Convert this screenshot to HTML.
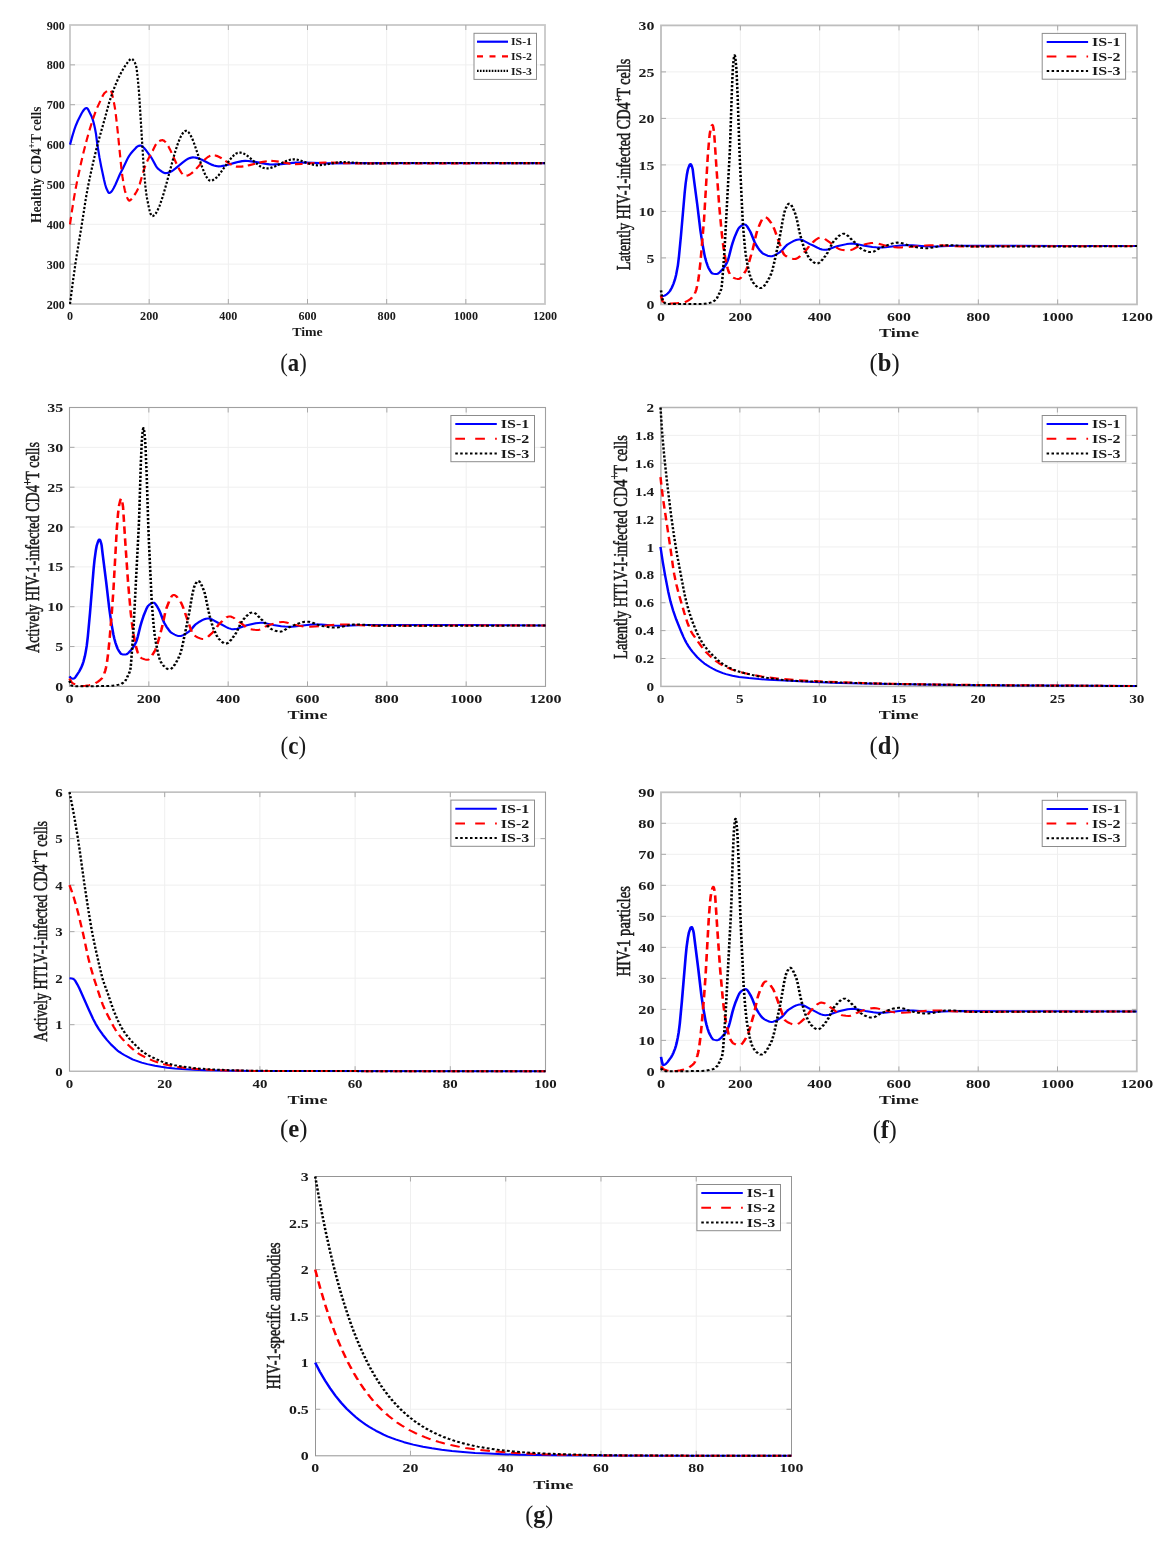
<!DOCTYPE html>
<html><head><meta charset="utf-8"><title>Figure</title>
<style>
html,body{margin:0;padding:0;background:#fff;}
svg{display:block;will-change:transform;}
text{font-family:"Liberation Serif", serif;fill:#1a1a1a;}
</style></head>
<body>
<svg width="1174" height="1541" viewBox="0 0 1174 1541">
<rect width="1174" height="1541" fill="#fff"/>
<path d="M149.17 25.00V304.00M228.33 25.00V304.00M307.50 25.00V304.00M386.67 25.00V304.00M465.83 25.00V304.00M70.00 264.14H545.00M70.00 224.29H545.00M70.00 184.43H545.00M70.00 144.57H545.00M70.00 104.71H545.00M70.00 64.86H545.00" stroke="#efefef" stroke-width="1" fill="none"/>
<rect x="70.00" y="25.00" width="475.00" height="279.00" stroke="#c8c8c8" stroke-width="1.80" fill="none"/>
<path d="M149.17 304.00v-5.00M149.17 25.00v5.00M228.33 304.00v-5.00M228.33 25.00v5.00M307.50 304.00v-5.00M307.50 25.00v5.00M386.67 304.00v-5.00M386.67 25.00v5.00M465.83 304.00v-5.00M465.83 25.00v5.00M70.00 264.14h5.00M545.00 264.14h-5.00M70.00 224.29h5.00M545.00 224.29h-5.00M70.00 184.43h5.00M545.00 184.43h-5.00M70.00 144.57h5.00M545.00 144.57h-5.00M70.00 104.71h5.00M545.00 104.71h-5.00M70.00 64.86h5.00M545.00 64.86h-5.00" stroke="#a8a8a8" stroke-width="1" fill="none"/>
<clipPath id="ca"><rect x="67.00" y="22.00" width="481.00" height="285.00"/></clipPath>
<g clip-path="url(#ca)"><g transform="translate(70.00 0) scale(1.0000 1)">
<path d="M0.00,144.6 2.26,136.4 4.16,130.2 5.94,125.2 7.72,121.0 11.52,113.5 12.71,111.5 13.78,110.0 14.85,108.8 15.92,108.2 16.39,108.0 16.87,108.1 17.58,108.6 18.65,110.4 21.38,115.9 22.69,119.4 23.87,123.5 24.94,128.2 26.01,134.0 27.32,144.4 29.46,157.4 31.24,166.7 33.97,179.5 35.16,184.5 36.23,188.0 38.01,191.8 38.60,192.7 38.96,192.9 39.20,193.0 40.15,192.7 41.22,191.9 42.40,190.3 43.59,188.3 45.37,184.7 50.13,173.8 52.74,168.7 57.13,159.6 58.44,157.1 59.51,155.3 60.58,153.8 62.95,151.0 65.80,147.9 66.87,146.9 67.94,146.2 68.89,145.8 69.84,145.6 70.44,145.6 71.15,145.8 72.46,146.5 73.88,147.8 75.54,149.7 81.13,157.3 82.43,159.5 85.76,165.6 86.71,167.1 87.66,168.3 90.27,170.5 92.29,171.9 94.07,172.8 95.62,173.1 97.04,173.0 98.47,172.6 100.01,172.1 101.56,171.3 103.34,170.1 105.24,168.7 112.84,162.4 116.17,159.9 118.07,158.8 119.73,158.1 121.39,157.6 122.94,157.4 124.24,157.5 125.55,157.6 128.52,158.4 131.96,159.8 139.21,163.5 142.30,164.9 143.96,165.5 145.62,165.9 147.17,166.2 148.59,166.3 151.33,166.2 154.41,165.7 157.98,164.8 165.46,162.6 168.67,161.8 172.11,161.1 175.20,160.9 178.05,161.0 181.26,161.3 184.94,161.9 195.99,163.9 199.55,164.3 202.76,164.5 205.61,164.4 208.70,164.3 222.83,162.8 226.16,162.6 229.24,162.5 235.42,162.6 250.27,163.2 256.92,163.3 284.60,163.1 475.00,163.1" stroke="#0000ff" stroke-width="2.20" fill="none" stroke-linejoin="round"/>
<path d="M0.00,224.3 1.90,211.2 3.80,199.2 5.58,189.0 7.36,180.0 10.57,165.1 13.30,153.3 16.51,140.7 19.24,130.9 22.69,119.8 25.54,111.7 27.44,107.1 32.78,95.7 33.97,93.7 34.45,93.1 35.16,92.5 36.47,91.5 37.65,90.7 38.72,90.2 39.67,90.0 40.27,90.0 40.74,90.4 41.22,91.3 41.81,93.0 43.24,99.1 44.42,105.1 45.02,108.6 45.97,115.9 47.51,129.6 51.43,168.8 52.38,176.2 53.81,185.5 54.88,190.6 56.66,196.3 57.37,198.1 57.96,199.4 58.56,200.2 59.15,200.6 59.63,200.6 60.22,200.3 60.82,199.7 61.53,198.9 65.45,193.5 66.64,191.5 67.82,189.2 68.77,186.9 69.72,184.1 73.76,170.2 75.43,165.3 76.85,162.0 78.39,158.8 82.79,150.6 85.52,145.1 86.83,143.0 87.90,141.8 90.04,140.7 90.99,140.4 91.82,140.2 92.41,140.2 93.00,140.3 93.60,140.5 94.31,141.0 95.62,142.2 97.04,144.1 98.59,146.7 100.25,149.9 106.90,164.7 108.45,167.8 109.75,170.2 111.30,172.6 112.72,174.3 113.43,174.9 114.15,175.4 114.86,175.7 115.45,175.8 116.88,175.6 118.30,175.2 119.85,174.4 121.39,173.4 123.06,172.0 124.96,170.2 132.68,161.7 134.46,159.9 136.00,158.5 137.90,157.0 139.57,156.1 141.11,155.5 142.65,155.2 143.96,155.3 145.27,155.5 146.69,155.9 148.24,156.5 151.56,158.3 158.69,163.1 161.78,164.9 163.44,165.7 164.98,166.2 166.53,166.6 167.95,166.7 171.40,166.6 175.32,166.1 179.71,165.1 188.98,162.8 193.02,161.9 197.29,161.2 201.09,160.9 203.71,161.0 206.56,161.3 209.76,161.8 219.50,163.6 222.59,164.0 225.33,164.1 231.98,163.9 247.77,162.8 254.90,162.5 261.20,162.6 275.93,163.2 282.58,163.3 393.52,163.3 475.00,163.1" stroke="#ff0000" stroke-width="2.20" fill="none" stroke-linejoin="round" stroke-dasharray="7.5 4.5"/>
<path d="M0.00,304.0 2.85,281.9 5.46,263.5 7.36,251.4 11.76,224.8 16.15,196.6 18.17,185.7 20.67,173.6 23.28,161.9 26.25,149.6 28.98,139.2 34.92,118.2 38.96,103.2 41.22,96.3 44.07,88.4 46.21,83.1 48.22,78.5 50.60,73.7 52.74,69.8 54.88,66.3 58.68,61.0 59.98,59.6 60.58,59.1 61.05,58.9 61.53,58.9 61.88,58.9 62.36,59.2 62.83,59.6 63.78,60.7 64.73,62.4 65.69,64.5 66.04,65.6 66.40,67.4 66.87,70.6 67.94,80.3 69.13,93.6 73.52,164.7 74.24,173.9 75.43,186.5 76.14,192.7 76.73,196.8 78.87,207.6 79.70,211.0 80.53,213.7 81.36,215.5 81.72,215.9 82.08,216.1 82.91,216.0 83.86,215.5 84.69,214.8 85.64,213.6 86.59,212.2 87.54,210.4 89.44,206.1 91.58,200.1 93.95,192.5 96.45,183.6 103.34,158.1 105.48,150.8 107.50,144.6 109.75,138.8 110.82,136.5 111.89,134.5 112.96,133.0 113.91,131.9 114.86,131.2 115.81,130.9 116.40,130.9 117.12,131.1 117.71,131.5 118.42,132.1 119.85,134.0 121.27,136.6 122.82,140.0 124.48,144.4 131.37,164.9 132.91,169.2 134.34,172.7 136.00,176.2 137.55,178.6 138.26,179.5 138.97,180.1 139.68,180.5 140.40,180.7 141.82,180.5 143.37,179.9 145.03,178.8 146.69,177.4 148.47,175.5 150.49,172.9 158.57,161.5 160.47,159.0 162.13,157.0 164.03,155.1 165.82,153.7 167.48,152.9 168.31,152.7 169.14,152.6 170.57,152.6 171.99,152.9 173.54,153.5 175.20,154.4 176.86,155.5 178.76,156.9 186.37,163.4 189.69,166.0 191.47,167.0 193.14,167.8 194.68,168.3 196.22,168.5 197.65,168.4 199.07,168.3 200.62,167.9 202.28,167.4 205.85,166.0 213.45,162.2 216.77,160.8 218.67,160.1 220.34,159.7 221.88,159.4 223.42,159.3 225.92,159.5 228.65,160.0 231.86,161.0 238.51,163.4 241.36,164.3 244.45,165.0 247.18,165.3 249.91,165.2 252.88,164.9 256.33,164.4 266.54,162.6 269.87,162.2 272.84,162.1 279.01,162.3 293.74,163.3 300.39,163.5 328.07,163.0 412.88,163.0 475.00,163.1" stroke="#000000" stroke-width="2.20" fill="none" stroke-linejoin="round" stroke-dasharray="2.2 1.8"/>
</g></g>
<text x="46.71" y="308.62" font-size="13.20" font-weight="bold" textLength="18.19" lengthAdjust="spacingAndGlyphs">200</text>
<text x="46.71" y="268.76" font-size="13.20" font-weight="bold" textLength="18.19" lengthAdjust="spacingAndGlyphs">300</text>
<text x="46.71" y="228.91" font-size="13.20" font-weight="bold" textLength="18.19" lengthAdjust="spacingAndGlyphs">400</text>
<text x="46.71" y="189.05" font-size="13.20" font-weight="bold" textLength="18.19" lengthAdjust="spacingAndGlyphs">500</text>
<text x="46.71" y="149.19" font-size="13.20" font-weight="bold" textLength="18.19" lengthAdjust="spacingAndGlyphs">600</text>
<text x="46.71" y="109.33" font-size="13.20" font-weight="bold" textLength="18.19" lengthAdjust="spacingAndGlyphs">700</text>
<text x="46.71" y="69.48" font-size="13.20" font-weight="bold" textLength="18.19" lengthAdjust="spacingAndGlyphs">800</text>
<text x="46.71" y="29.62" font-size="13.20" font-weight="bold" textLength="18.19" lengthAdjust="spacingAndGlyphs">900</text>
<text x="66.97" y="319.90" font-size="13.20" font-weight="bold" textLength="6.06" lengthAdjust="spacingAndGlyphs">0</text>
<text x="140.07" y="319.90" font-size="13.20" font-weight="bold" textLength="18.19" lengthAdjust="spacingAndGlyphs">200</text>
<text x="219.24" y="319.90" font-size="13.20" font-weight="bold" textLength="18.19" lengthAdjust="spacingAndGlyphs">400</text>
<text x="298.41" y="319.90" font-size="13.20" font-weight="bold" textLength="18.19" lengthAdjust="spacingAndGlyphs">600</text>
<text x="377.57" y="319.90" font-size="13.20" font-weight="bold" textLength="18.19" lengthAdjust="spacingAndGlyphs">800</text>
<text x="453.71" y="319.90" font-size="13.20" font-weight="bold" textLength="24.25" lengthAdjust="spacingAndGlyphs">1000</text>
<text x="532.88" y="319.90" font-size="13.20" font-weight="bold" textLength="24.25" lengthAdjust="spacingAndGlyphs">1200</text>
<text x="292.25" y="336.20" font-size="12.80" font-weight="bold" textLength="30.50" lengthAdjust="spacingAndGlyphs">Time</text>
<text transform="translate(40.60 164.75) rotate(-90) scale(0.9550 1)" x="0" y="0" font-size="14.00" font-weight="bold" text-anchor="middle">Healthy CD4<tspan dy="-5.32" font-size="9.80">+</tspan><tspan dy="5.32">T cells</tspan></text>
<rect x="474.00" y="33.30" width="62.50" height="46.10" stroke="#8c8c8c" stroke-width="1" fill="#fff"/>
<path d="M477.00 41.70H508.00" stroke="#0000ff" stroke-width="2.20"/>
<text x="511.00" y="45.39" font-size="11.00" font-weight="bold" textLength="21.00" lengthAdjust="spacingAndGlyphs">IS-1</text>
<path d="M477.00 56.30H508.00" stroke="#ff0000" stroke-width="2.20" stroke-dasharray="6 6.5"/>
<text x="511.00" y="59.98" font-size="11.00" font-weight="bold" textLength="21.00" lengthAdjust="spacingAndGlyphs">IS-2</text>
<path d="M477.00 70.90H508.00" stroke="#000000" stroke-width="2.20" stroke-dasharray="1.6 1.35"/>
<text x="511.00" y="74.59" font-size="11.00" font-weight="bold" textLength="21.00" lengthAdjust="spacingAndGlyphs">IS-3</text>
<text x="280.30" y="371.20" font-size="24.50" textLength="26.50" lengthAdjust="spacingAndGlyphs">(<tspan font-weight="bold">a</tspan>)</text>
<path d="M740.33 25.40V304.40M819.67 25.40V304.40M899.00 25.40V304.40M978.33 25.40V304.40M1057.67 25.40V304.40M661.00 257.90H1137.00M661.00 211.40H1137.00M661.00 164.90H1137.00M661.00 118.40H1137.00M661.00 71.90H1137.00" stroke="#efefef" stroke-width="1" fill="none"/>
<rect x="661.00" y="25.40" width="476.00" height="279.00" stroke="#bebebe" stroke-width="1.80" fill="none"/>
<path d="M740.33 304.40v-5.00M740.33 25.40v5.00M819.67 304.40v-5.00M819.67 25.40v5.00M899.00 304.40v-5.00M899.00 25.40v5.00M978.33 304.40v-5.00M978.33 25.40v5.00M1057.67 304.40v-5.00M1057.67 25.40v5.00M661.00 257.90h5.00M1137.00 257.90h-5.00M661.00 211.40h5.00M1137.00 211.40h-5.00M661.00 164.90h5.00M1137.00 164.90h-5.00M661.00 118.40h5.00M1137.00 118.40h-5.00M661.00 71.90h5.00M1137.00 71.90h-5.00" stroke="#a8a8a8" stroke-width="1" fill="none"/>
<clipPath id="cb"><rect x="658.00" y="22.40" width="482.00" height="285.00"/></clipPath>
<g clip-path="url(#cb)"><g transform="translate(661.00 0) scale(1.2800 1)">
<path d="M0.00,296.5 0.93,296.4 2.14,295.9 2.79,295.6 3.53,295.1 4.37,294.4 5.30,293.4 6.32,292.0 6.97,291.0 8.37,287.9 9.76,283.8 10.88,279.6 11.81,274.9 13.20,265.3 14.04,256.4 15.62,235.3 18.51,192.5 19.25,183.5 20.18,175.0 20.92,170.0 21.39,168.0 22.13,165.5 22.60,164.4 22.88,164.0 23.06,164.0 23.43,164.3 23.90,165.5 24.55,168.2 24.83,169.9 25.48,177.0 28.27,204.0 30.78,230.3 32.27,243.0 33.94,254.6 34.59,258.3 35.43,262.0 36.36,265.5 37.20,268.1 38.50,271.0 39.43,272.7 40.17,273.5 41.20,273.8 42.40,274.0 43.43,274.1 44.08,273.8 44.82,273.3 45.94,272.1 48.17,269.1 49.19,267.5 50.22,265.5 51.52,262.5 52.26,260.3 53.10,256.6 55.05,246.7 55.98,242.8 57.47,237.3 59.61,230.8 60.54,228.5 61.37,227.2 62.58,225.9 63.51,225.2 64.35,224.7 65.19,224.4 65.84,224.6 66.49,225.2 67.23,226.3 68.07,228.0 69.65,231.4 70.21,232.9 72.91,241.4 73.84,244.0 75.70,247.8 77.37,250.7 78.86,252.7 80.16,253.9 81.83,254.9 83.23,255.7 84.44,256.1 85.55,256.3 86.95,256.2 88.53,255.5 90.30,254.3 93.08,252.0 94.48,250.5 97.08,246.6 98.11,245.3 98.85,244.5 101.45,242.5 103.31,241.2 104.89,240.3 106.38,239.7 107.78,239.5 108.52,239.5 109.36,239.7 111.13,240.5 115.87,243.8 118.29,245.2 122.10,247.7 123.87,248.7 125.82,249.5 127.59,249.8 129.17,249.7 130.84,249.2 132.51,248.5 136.42,246.7 138.28,246.0 145.07,244.1 147.21,243.7 149.07,243.6 150.65,243.7 152.32,243.9 158.92,245.7 165.15,246.9 168.13,247.3 170.64,247.5 172.87,247.4 175.38,247.2 187.01,245.5 189.80,245.3 192.21,245.2 196.31,245.3 206.07,246.3 210.53,246.6 214.63,246.5 224.58,245.9 229.13,245.8 311.52,245.9 371.88,246.1" stroke="#0000ff" stroke-width="2.00" fill="none" stroke-linejoin="round"/>
<path d="M0.00,295.6 0.84,299.9 1.30,301.5 1.49,301.7 2.23,302.3 3.63,303.0 4.56,303.3 5.58,303.4 8.46,303.4 13.02,303.1 17.58,302.5 19.34,301.8 21.11,300.7 22.97,299.0 24.83,296.9 25.48,295.8 26.13,294.3 26.97,291.8 27.53,289.7 28.64,283.9 29.39,278.0 30.59,264.8 31.52,252.0 33.66,219.0 36.55,156.0 37.57,139.9 38.03,134.5 38.50,131.0 39.43,126.4 39.80,125.3 39.99,125.0 40.17,124.9 40.45,125.4 40.82,127.3 41.38,131.5 41.57,133.6 43.33,167.9 45.47,205.7 47.52,233.8 48.26,242.0 49.10,249.7 50.03,256.8 51.05,263.0 52.08,268.5 52.91,271.9 54.12,274.7 54.77,275.9 55.33,276.7 56.17,277.5 58.40,278.6 59.61,278.9 60.72,279.0 61.37,278.8 62.12,278.1 63.05,276.9 64.07,275.1 66.02,271.2 66.68,269.6 67.51,267.0 68.54,263.2 71.60,249.7 74.30,234.8 75.32,230.1 77.37,223.6 78.67,220.1 79.32,218.7 79.88,217.8 80.44,217.2 81.00,217.0 81.55,217.1 82.20,217.4 82.86,218.0 83.60,218.9 85.46,221.9 86.67,224.1 87.32,225.5 88.81,230.0 94.67,250.8 95.32,252.7 95.97,254.3 96.43,255.0 97.08,255.6 98.39,256.6 99.69,257.5 101.73,258.5 102.76,258.8 103.69,259.0 104.80,259.0 105.73,258.7 106.85,257.9 108.06,256.8 111.68,252.7 112.71,251.2 116.05,245.6 119.77,241.0 121.26,239.4 122.47,238.4 123.59,237.8 124.61,237.5 125.45,237.6 126.28,237.9 127.12,238.4 128.14,239.1 133.63,243.9 137.72,248.0 139.40,249.2 140.23,249.6 140.98,249.8 143.77,250.3 146.09,250.4 147.49,250.4 148.88,249.9 150.28,249.1 154.18,246.4 155.11,246.0 157.81,244.9 160.32,244.0 162.36,243.4 164.13,243.1 165.80,242.9 167.39,243.0 169.06,243.4 175.48,245.6 180.50,246.8 183.01,247.3 185.05,247.5 188.03,247.4 191.38,247.2 206.63,245.5 210.25,245.3 213.51,245.2 218.44,245.3 229.97,246.2 235.18,246.4 314.03,246.3 371.88,246.1" stroke="#ff0000" stroke-width="2.00" fill="none" stroke-linejoin="round" stroke-dasharray="7.5 4.5"/>
<path d="M0.00,290.3 0.74,296.8 1.30,300.1 1.77,301.2 2.60,302.5 3.35,303.4 4.00,303.8 4.65,303.9 31.25,303.9 34.41,303.7 37.94,302.9 39.80,302.2 40.54,301.8 41.38,301.1 42.87,299.5 43.71,298.2 46.31,291.6 46.87,289.7 47.33,287.3 47.70,283.0 49.10,259.7 49.75,247.1 53.84,149.5 55.42,88.8 55.98,72.2 56.26,66.3 56.73,60.2 57.10,56.7 57.28,55.6 57.47,55.2 57.66,55.5 57.84,56.4 58.21,59.7 58.77,66.7 59.05,72.2 59.89,96.6 61.19,147.6 61.75,165.0 63.79,219.8 64.54,233.1 65.47,246.4 66.30,255.4 67.23,262.5 68.63,271.1 69.37,274.8 70.02,277.6 71.05,280.8 72.25,283.0 73.28,284.6 74.30,286.0 75.23,286.9 76.16,287.7 77.28,288.1 77.83,288.1 78.30,288.0 79.32,287.4 80.44,286.1 81.74,284.0 83.13,281.2 85.27,276.2 86.02,273.9 87.04,269.8 88.16,264.2 92.25,240.2 93.18,234.2 95.32,218.8 96.43,212.2 97.18,209.1 98.20,206.5 99.32,204.3 99.78,203.8 100.15,203.7 100.62,203.8 101.08,204.2 101.64,204.9 102.20,206.0 103.50,209.3 105.17,214.6 106.10,219.2 108.15,231.8 109.45,238.2 111.31,246.2 111.96,248.5 112.89,251.2 114.75,255.9 115.59,257.7 116.43,259.1 118.01,261.0 119.40,262.4 120.52,263.2 121.45,263.6 122.10,263.5 122.84,263.3 123.59,262.7 124.42,261.9 126.10,259.6 128.98,255.0 129.63,253.8 130.37,252.1 133.54,244.0 134.28,242.4 134.93,241.3 137.63,237.6 139.40,235.5 140.23,234.8 140.98,234.3 141.72,233.9 142.46,233.7 143.21,233.8 144.04,234.1 144.97,234.8 145.90,235.7 149.53,240.2 151.48,242.5 155.11,247.4 156.69,249.1 157.62,249.8 160.69,251.3 162.36,251.9 163.85,252.1 164.97,252.0 166.18,251.6 167.48,250.7 170.18,248.6 171.38,247.8 178.27,244.4 180.22,243.6 181.89,243.1 183.47,242.7 184.96,242.6 186.63,242.7 188.49,243.2 190.26,243.9 194.54,245.9 196.68,246.6 202.63,247.8 204.68,248.1 206.44,248.2 208.30,248.2 210.25,247.9 212.49,247.4 219.28,245.7 221.41,245.3 223.37,245.2 228.11,245.3 239.36,246.3 244.48,246.6 318.03,246.5 371.88,246.1" stroke="#000000" stroke-width="2.00" fill="none" stroke-linejoin="round" stroke-dasharray="2.2 1.8"/>
</g></g>
<text x="646.46" y="309.02" font-size="13.20" font-weight="bold" textLength="7.94" lengthAdjust="spacingAndGlyphs">0</text>
<text x="646.46" y="262.52" font-size="13.20" font-weight="bold" textLength="7.94" lengthAdjust="spacingAndGlyphs">5</text>
<text x="638.53" y="216.02" font-size="13.20" font-weight="bold" textLength="15.87" lengthAdjust="spacingAndGlyphs">10</text>
<text x="638.53" y="169.52" font-size="13.20" font-weight="bold" textLength="15.87" lengthAdjust="spacingAndGlyphs">15</text>
<text x="638.53" y="123.02" font-size="13.20" font-weight="bold" textLength="15.87" lengthAdjust="spacingAndGlyphs">20</text>
<text x="638.53" y="76.52" font-size="13.20" font-weight="bold" textLength="15.87" lengthAdjust="spacingAndGlyphs">25</text>
<text x="638.53" y="30.02" font-size="13.20" font-weight="bold" textLength="15.87" lengthAdjust="spacingAndGlyphs">30</text>
<text x="657.03" y="320.90" font-size="13.20" font-weight="bold" textLength="7.94" lengthAdjust="spacingAndGlyphs">0</text>
<text x="728.43" y="320.90" font-size="13.20" font-weight="bold" textLength="23.81" lengthAdjust="spacingAndGlyphs">200</text>
<text x="807.76" y="320.90" font-size="13.20" font-weight="bold" textLength="23.81" lengthAdjust="spacingAndGlyphs">400</text>
<text x="887.10" y="320.90" font-size="13.20" font-weight="bold" textLength="23.81" lengthAdjust="spacingAndGlyphs">600</text>
<text x="966.43" y="320.90" font-size="13.20" font-weight="bold" textLength="23.81" lengthAdjust="spacingAndGlyphs">800</text>
<text x="1041.79" y="320.90" font-size="13.20" font-weight="bold" textLength="31.74" lengthAdjust="spacingAndGlyphs">1000</text>
<text x="1121.13" y="320.90" font-size="13.20" font-weight="bold" textLength="31.74" lengthAdjust="spacingAndGlyphs">1200</text>
<text x="879.00" y="337.00" font-size="12.80" font-weight="bold" textLength="40.00" lengthAdjust="spacingAndGlyphs">Time</text>
<text transform="translate(629.90 164.50) rotate(-90) scale(0.7536 1)" x="0" y="0" font-size="18.90" font-weight="normal" text-anchor="middle" stroke="#1a1a1a" stroke-width="0.55">Latently HIV-1-infected CD4<tspan dy="-7.18" font-size="13.23">+</tspan><tspan dy="7.18">T cells</tspan></text>
<rect x="1042.20" y="33.40" width="83.40" height="45.80" stroke="#8c8c8c" stroke-width="1" fill="#fff"/>
<path d="M1046.70 41.90H1088.10" stroke="#0000ff" stroke-width="2.00"/>
<text x="1092.10" y="46.19" font-size="12.80" font-weight="bold" textLength="28.50" lengthAdjust="spacingAndGlyphs">IS-1</text>
<path d="M1046.70 56.60H1088.10" stroke="#ff0000" stroke-width="2.00" stroke-dasharray="9.7 10.2"/>
<text x="1092.10" y="60.89" font-size="12.80" font-weight="bold" textLength="28.50" lengthAdjust="spacingAndGlyphs">IS-2</text>
<path d="M1046.70 70.90H1088.10" stroke="#000000" stroke-width="2.00" stroke-dasharray="2.5 2.4"/>
<text x="1092.10" y="75.19" font-size="12.80" font-weight="bold" textLength="28.50" lengthAdjust="spacingAndGlyphs">IS-3</text>
<text x="869.60" y="370.70" font-size="24.50" textLength="30.00" lengthAdjust="spacingAndGlyphs">(<tspan font-weight="bold">b</tspan>)</text>
<path d="M148.83 407.50V686.40M228.17 407.50V686.40M307.50 407.50V686.40M386.83 407.50V686.40M466.17 407.50V686.40M69.50 646.56H545.50M69.50 606.71H545.50M69.50 566.87H545.50M69.50 527.03H545.50M69.50 487.19H545.50M69.50 447.34H545.50" stroke="#efefef" stroke-width="1" fill="none"/>
<rect x="69.50" y="407.50" width="476.00" height="278.90" stroke="#a0a0a0" stroke-width="1.10" fill="none"/>
<path d="M148.83 686.40v-5.00M148.83 407.50v5.00M228.17 686.40v-5.00M228.17 407.50v5.00M307.50 686.40v-5.00M307.50 407.50v5.00M386.83 686.40v-5.00M386.83 407.50v5.00M466.17 686.40v-5.00M466.17 407.50v5.00M69.50 646.56h5.00M545.50 646.56h-5.00M69.50 606.71h5.00M545.50 606.71h-5.00M69.50 566.87h5.00M545.50 566.87h-5.00M69.50 527.03h5.00M545.50 527.03h-5.00M69.50 487.19h5.00M545.50 487.19h-5.00M69.50 447.34h5.00M545.50 447.34h-5.00" stroke="#a8a8a8" stroke-width="1" fill="none"/>
<clipPath id="cc"><rect x="66.50" y="404.50" width="482.00" height="284.90"/></clipPath>
<g clip-path="url(#cc)"><g transform="translate(69.50 0) scale(1.2900 1)">
<path d="M0.00,676.4 0.65,677.4 1.29,678.1 2.03,678.5 2.77,678.7 3.23,678.6 3.69,678.3 4.24,677.7 4.80,676.8 7.47,671.6 9.13,667.5 9.97,664.9 10.80,661.8 11.90,656.3 12.64,651.4 13.38,645.7 14.21,636.6 15.87,613.2 18.73,568.4 19.38,560.1 20.39,550.5 21.13,545.4 22.33,540.8 22.79,539.7 23.16,539.4 23.34,539.5 23.53,539.7 23.99,540.9 24.54,543.2 24.91,545.4 25.65,553.7 28.42,581.9 30.82,608.5 32.29,621.9 34.05,634.7 34.69,638.4 35.62,642.7 36.45,645.9 37.28,648.6 38.57,651.6 39.49,653.3 40.14,654.0 41.15,654.4 42.44,654.6 43.46,654.6 44.11,654.4 44.75,653.9 45.86,652.6 48.07,649.5 49.09,647.8 50.10,645.8 51.30,642.9 52.13,640.3 52.96,636.5 54.90,626.2 55.92,621.7 57.39,615.9 59.51,609.2 60.44,606.8 61.18,605.6 62.38,604.3 63.39,603.4 64.22,602.9 65.05,602.7 65.42,602.7 65.79,602.9 66.62,604.0 67.54,605.7 69.30,609.7 70.31,612.5 72.53,620.1 73.45,622.9 75.29,626.9 77.05,630.1 78.43,632.2 79.63,633.3 81.38,634.5 82.77,635.3 84.06,635.9 85.17,636.1 85.90,636.0 86.64,635.9 88.21,635.2 89.87,634.0 92.64,631.6 94.02,630.0 96.61,625.9 97.72,624.4 98.45,623.7 100.94,621.6 102.79,620.2 104.36,619.3 105.83,618.7 107.22,618.5 107.96,618.5 108.79,618.7 110.54,619.5 115.25,622.9 117.74,624.4 121.43,627.0 123.18,628.1 125.12,628.9 126.04,629.2 126.87,629.3 128.44,629.1 130.10,628.6 131.76,627.9 135.64,626.0 137.58,625.2 144.31,623.3 146.43,622.9 148.28,622.7 149.85,622.8 151.51,623.1 157.97,624.9 164.15,626.2 167.10,626.6 169.59,626.8 171.90,626.8 174.39,626.5 185.83,624.8 188.60,624.5 191.00,624.4 195.06,624.6 204.75,625.6 209.18,625.8 213.33,625.8 223.11,625.2 227.63,625.1 309.20,625.1 368.99,625.4" stroke="#0000ff" stroke-width="2.00" fill="none" stroke-linejoin="round"/>
<path d="M0.00,678.7 1.38,681.7 2.21,683.0 3.88,684.1 5.81,685.1 7.84,685.8 9.87,686.0 12.36,685.8 15.32,685.1 18.09,684.2 20.02,683.2 22.05,681.7 23.99,679.7 25.10,678.3 25.84,676.8 26.94,673.6 27.68,670.7 28.33,667.4 28.97,663.2 29.99,653.1 31.10,639.0 32.94,610.2 34.05,590.0 36.63,529.8 37.55,514.7 38.02,508.9 38.48,505.1 39.40,500.2 39.77,499.0 39.95,498.6 40.14,498.5 40.41,498.9 40.78,500.8 41.52,507.2 43.28,542.9 45.40,582.5 47.43,612.1 48.26,621.7 49.09,629.6 50.01,637.0 51.03,643.5 52.04,649.1 52.87,652.5 54.07,655.5 54.72,656.7 55.27,657.5 55.73,658.0 56.19,658.3 58.32,659.4 59.51,659.7 60.62,659.8 61.27,659.5 62.01,658.8 62.84,657.7 63.85,655.8 65.88,651.5 66.44,650.0 67.27,647.4 68.28,643.4 71.33,629.3 72.16,624.8 74.09,613.2 75.11,608.4 77.14,601.6 78.43,598.0 79.08,596.6 79.63,595.7 80.18,595.1 80.74,594.9 81.29,595.0 81.94,595.4 82.58,596.0 83.23,596.8 84.98,599.8 86.37,602.4 86.92,603.8 88.40,608.5 94.21,630.1 94.95,632.5 95.59,634.0 96.05,634.7 96.79,635.4 98.08,636.5 99.28,637.4 101.22,638.4 102.24,638.7 103.16,638.9 104.27,638.9 105.19,638.5 106.30,637.8 107.59,636.5 111.09,632.3 112.20,630.6 115.52,624.7 119.12,620.1 120.60,618.4 121.80,617.3 122.91,616.7 123.92,616.4 124.75,616.5 125.58,616.8 126.41,617.3 127.43,618.0 130.84,621.2 132.87,623.0 136.93,627.3 138.59,628.6 139.42,629.1 140.16,629.3 142.93,629.7 145.33,629.9 146.80,629.9 148.19,629.3 149.57,628.4 152.71,626.1 154.28,625.2 158.34,623.6 160.64,622.8 162.86,622.3 164.80,622.1 166.36,622.1 168.03,622.5 174.48,624.8 179.47,626.1 181.87,626.6 183.90,626.8 186.85,626.8 190.17,626.5 205.30,624.8 208.99,624.5 212.22,624.4 217.11,624.5 228.46,625.4 233.63,625.7 311.69,625.6 368.99,625.4" stroke="#ff0000" stroke-width="2.00" fill="none" stroke-linejoin="round" stroke-dasharray="7.5 4.5"/>
<path d="M0.00,680.8 0.83,683.7 1.48,685.2 1.75,685.5 2.21,685.8 3.41,686.2 17.35,686.2 31.10,685.9 33.40,685.7 35.80,685.3 38.57,684.6 39.95,684.1 41.43,682.9 42.91,681.3 43.46,680.4 44.01,679.2 46.32,672.9 46.87,670.9 47.34,668.1 47.70,663.3 49.00,640.7 49.64,627.7 53.70,526.8 54.16,510.9 55.27,464.1 55.92,444.2 56.19,438.7 56.65,432.6 57.02,429.2 57.30,428.1 57.39,428.1 57.48,428.3 57.67,429.2 58.13,433.5 58.59,439.5 58.96,447.4 59.79,473.3 60.99,522.8 61.54,541.0 63.67,600.1 64.41,613.5 65.24,625.9 66.07,635.3 66.99,642.7 68.37,651.7 69.76,658.5 70.77,661.9 71.88,664.0 72.99,665.8 74.00,667.1 74.92,668.1 75.85,668.9 76.95,669.3 77.51,669.4 77.97,669.2 78.98,668.6 80.09,667.3 81.38,665.1 82.77,662.2 84.89,657.0 85.63,654.6 86.64,650.3 87.75,644.4 91.81,619.4 92.73,613.1 94.95,596.4 96.05,589.5 96.79,586.4 97.81,583.7 98.82,581.7 99.28,581.2 99.65,581.0 100.11,581.1 100.58,581.4 101.13,582.2 101.68,583.3 102.88,586.5 104.64,592.3 105.56,597.0 107.59,610.2 108.88,616.9 110.73,625.4 111.37,627.8 112.29,630.6 114.23,635.8 115.06,637.6 115.89,639.0 117.46,641.0 118.75,642.4 119.86,643.3 120.78,643.6 121.43,643.6 122.17,643.3 122.91,642.8 123.74,641.9 125.40,639.6 128.35,634.6 129.73,631.5 132.78,623.2 133.52,621.6 134.16,620.4 136.93,616.4 138.68,614.3 139.51,613.5 140.25,612.9 140.99,612.6 141.73,612.4 142.47,612.5 143.30,612.9 144.13,613.5 145.05,614.5 148.74,619.3 150.68,621.7 154.28,626.8 155.85,628.6 156.77,629.3 159.72,630.8 161.38,631.4 162.86,631.7 164.06,631.6 165.26,631.1 166.46,630.3 169.13,628.1 170.33,627.2 177.25,623.6 179.10,622.8 180.76,622.2 182.33,621.8 183.80,621.7 185.46,621.8 187.31,622.3 189.06,623.0 193.31,625.1 195.43,625.9 201.34,627.2 203.37,627.5 205.12,627.6 206.96,627.5 208.90,627.3 211.21,626.7 217.85,624.9 219.97,624.5 221.91,624.4 226.62,624.6 237.78,625.6 242.86,625.8 315.66,625.8 368.99,625.4" stroke="#000000" stroke-width="2.00" fill="none" stroke-linejoin="round" stroke-dasharray="2.2 1.8"/>
</g></g>
<text x="55.20" y="691.02" font-size="13.20" font-weight="bold" textLength="8.00" lengthAdjust="spacingAndGlyphs">0</text>
<text x="55.20" y="651.18" font-size="13.20" font-weight="bold" textLength="8.00" lengthAdjust="spacingAndGlyphs">5</text>
<text x="47.20" y="611.33" font-size="13.20" font-weight="bold" textLength="16.00" lengthAdjust="spacingAndGlyphs">10</text>
<text x="47.20" y="571.49" font-size="13.20" font-weight="bold" textLength="16.00" lengthAdjust="spacingAndGlyphs">15</text>
<text x="47.20" y="531.65" font-size="13.20" font-weight="bold" textLength="16.00" lengthAdjust="spacingAndGlyphs">20</text>
<text x="47.20" y="491.81" font-size="13.20" font-weight="bold" textLength="16.00" lengthAdjust="spacingAndGlyphs">25</text>
<text x="47.20" y="451.96" font-size="13.20" font-weight="bold" textLength="16.00" lengthAdjust="spacingAndGlyphs">30</text>
<text x="47.20" y="412.12" font-size="13.20" font-weight="bold" textLength="16.00" lengthAdjust="spacingAndGlyphs">35</text>
<text x="65.50" y="702.80" font-size="13.20" font-weight="bold" textLength="8.00" lengthAdjust="spacingAndGlyphs">0</text>
<text x="136.84" y="702.80" font-size="13.20" font-weight="bold" textLength="23.99" lengthAdjust="spacingAndGlyphs">200</text>
<text x="216.17" y="702.80" font-size="13.20" font-weight="bold" textLength="23.99" lengthAdjust="spacingAndGlyphs">400</text>
<text x="295.50" y="702.80" font-size="13.20" font-weight="bold" textLength="23.99" lengthAdjust="spacingAndGlyphs">600</text>
<text x="374.84" y="702.80" font-size="13.20" font-weight="bold" textLength="23.99" lengthAdjust="spacingAndGlyphs">800</text>
<text x="450.17" y="702.80" font-size="13.20" font-weight="bold" textLength="31.99" lengthAdjust="spacingAndGlyphs">1000</text>
<text x="529.50" y="702.80" font-size="13.20" font-weight="bold" textLength="31.99" lengthAdjust="spacingAndGlyphs">1200</text>
<text x="287.50" y="719.10" font-size="12.80" font-weight="bold" textLength="40.00" lengthAdjust="spacingAndGlyphs">Time</text>
<text transform="translate(39.40 547.45) rotate(-90) scale(0.7459 1)" x="0" y="0" font-size="18.90" font-weight="normal" text-anchor="middle" stroke="#1a1a1a" stroke-width="0.55">Actively HIV-1-infected CD4<tspan dy="-7.18" font-size="13.23">+</tspan><tspan dy="7.18">T cells</tspan></text>
<rect x="450.90" y="415.50" width="83.60" height="46.20" stroke="#8c8c8c" stroke-width="1" fill="#fff"/>
<path d="M455.30 424.10H496.80" stroke="#0000ff" stroke-width="2.00"/>
<text x="500.80" y="428.39" font-size="12.80" font-weight="bold" textLength="28.50" lengthAdjust="spacingAndGlyphs">IS-1</text>
<path d="M455.30 438.80H496.80" stroke="#ff0000" stroke-width="2.00" stroke-dasharray="9.7 10.2"/>
<text x="500.80" y="443.09" font-size="12.80" font-weight="bold" textLength="28.50" lengthAdjust="spacingAndGlyphs">IS-2</text>
<path d="M455.30 453.40H496.80" stroke="#000000" stroke-width="2.00" stroke-dasharray="2.5 2.4"/>
<text x="500.80" y="457.69" font-size="12.80" font-weight="bold" textLength="28.50" lengthAdjust="spacingAndGlyphs">IS-3</text>
<text x="280.60" y="753.50" font-size="24.50" textLength="25.50" lengthAdjust="spacingAndGlyphs">(<tspan font-weight="bold">c</tspan>)</text>
<path d="M739.88 407.50V686.40M819.27 407.50V686.40M898.65 407.50V686.40M978.03 407.50V686.40M1057.42 407.50V686.40M660.50 658.51H1136.80M660.50 630.62H1136.80M660.50 602.73H1136.80M660.50 574.84H1136.80M660.50 546.95H1136.80M660.50 519.06H1136.80M660.50 491.17H1136.80M660.50 463.28H1136.80M660.50 435.39H1136.80" stroke="#efefef" stroke-width="1" fill="none"/>
<rect x="660.90" y="407.50" width="475.90" height="278.90" stroke="#b4b4b4" stroke-width="1.50" fill="none"/>
<path d="M739.88 686.40v-5.00M739.88 407.50v5.00M819.27 686.40v-5.00M819.27 407.50v5.00M898.65 686.40v-5.00M898.65 407.50v5.00M978.03 686.40v-5.00M978.03 407.50v5.00M1057.42 686.40v-5.00M1057.42 407.50v5.00M660.50 658.51h5.00M1136.80 658.51h-5.00M660.50 630.62h5.00M1136.80 630.62h-5.00M660.50 602.73h5.00M1136.80 602.73h-5.00M660.50 574.84h5.00M1136.80 574.84h-5.00M660.50 546.95h5.00M1136.80 546.95h-5.00M660.50 519.06h5.00M1136.80 519.06h-5.00M660.50 491.17h5.00M1136.80 491.17h-5.00M660.50 463.28h5.00M1136.80 463.28h-5.00M660.50 435.39h5.00M1136.80 435.39h-5.00" stroke="#a8a8a8" stroke-width="1" fill="none"/>
<clipPath id="cd"><rect x="657.50" y="404.50" width="482.30" height="284.90"/></clipPath>
<g clip-path="url(#cd)"><g transform="translate(660.50 0) scale(1.2300 1)">
<path d="M0.00,547.0 1.84,561.8 3.58,574.4 6.20,591.2 8.13,601.6 10.26,610.5 12.78,619.4 17.14,632.7 18.69,637.0 20.04,640.5 21.21,643.1 22.76,646.2 24.31,649.0 25.85,651.5 27.79,654.3 29.82,657.1 31.76,659.4 33.60,661.4 35.63,663.4 37.86,665.3 40.09,667.0 42.32,668.5 45.22,670.3 48.13,671.8 50.74,673.1 53.26,674.1 58.49,675.7 63.91,676.9 71.85,678.1 80.08,679.1 87.92,679.7 105.26,680.7 124.53,682.0 145.83,682.9 165.49,683.5 187.18,684.0 241.41,684.9 309.38,685.6 387.24,686.0" stroke="#0000ff" stroke-width="2.00" fill="none" stroke-linejoin="round"/>
<path d="M0.00,477.2 1.07,489.2 2.23,500.1 8.04,547.8 10.26,567.6 11.14,574.2 12.78,583.9 14.72,593.3 19.37,613.0 22.08,623.4 24.01,629.3 24.98,631.7 26.05,633.9 33.31,646.5 35.15,649.4 36.80,651.8 39.12,654.7 41.35,657.3 43.48,659.6 45.51,661.5 47.45,663.1 50.16,665.1 52.77,666.7 55.39,668.2 58.00,669.6 60.62,670.7 64.01,671.9 67.69,673.0 71.66,674.0 76.40,675.1 82.41,676.4 87.54,677.3 95.09,678.4 108.36,679.8 120.46,680.8 133.44,681.6 153.87,682.6 175.17,683.4 197.06,684.0 225.23,684.5 281.20,685.2 387.24,686.0" stroke="#ff0000" stroke-width="2.00" fill="none" stroke-linejoin="round" stroke-dasharray="7.5 4.5"/>
<path d="M0.00,407.5 1.36,432.7 2.90,454.5 5.23,481.3 8.52,514.4 11.04,536.3 13.36,554.0 18.79,589.4 19.95,596.4 20.92,601.5 22.27,607.6 23.72,613.5 25.18,618.9 26.73,624.1 28.37,629.1 30.21,634.1 31.95,638.4 33.70,642.2 35.25,645.1 37.38,648.5 39.51,651.6 41.93,654.7 45.32,658.7 48.13,661.7 50.35,663.7 52.87,665.6 55.29,667.3 57.71,668.7 60.04,670.0 62.55,671.1 65.46,672.2 68.65,673.2 77.56,675.8 81.73,676.8 85.50,677.7 95.19,679.3 102.84,680.3 111.16,680.9 137.60,682.2 167.62,683.3 190.47,684.0 220.59,684.6 252.73,685.1 293.40,685.5 341.05,685.8 387.24,686.0" stroke="#000000" stroke-width="2.00" fill="none" stroke-linejoin="round" stroke-dasharray="2.2 1.8"/>
</g></g>
<text x="646.47" y="691.02" font-size="13.20" font-weight="bold" textLength="7.63" lengthAdjust="spacingAndGlyphs">0</text>
<text x="635.03" y="663.13" font-size="13.20" font-weight="bold" textLength="19.07" lengthAdjust="spacingAndGlyphs">0.2</text>
<text x="635.03" y="635.24" font-size="13.20" font-weight="bold" textLength="19.07" lengthAdjust="spacingAndGlyphs">0.4</text>
<text x="635.03" y="607.35" font-size="13.20" font-weight="bold" textLength="19.07" lengthAdjust="spacingAndGlyphs">0.6</text>
<text x="635.03" y="579.46" font-size="13.20" font-weight="bold" textLength="19.07" lengthAdjust="spacingAndGlyphs">0.8</text>
<text x="646.47" y="551.57" font-size="13.20" font-weight="bold" textLength="7.63" lengthAdjust="spacingAndGlyphs">1</text>
<text x="635.03" y="523.68" font-size="13.20" font-weight="bold" textLength="19.07" lengthAdjust="spacingAndGlyphs">1.2</text>
<text x="635.03" y="495.79" font-size="13.20" font-weight="bold" textLength="19.07" lengthAdjust="spacingAndGlyphs">1.4</text>
<text x="635.03" y="467.90" font-size="13.20" font-weight="bold" textLength="19.07" lengthAdjust="spacingAndGlyphs">1.6</text>
<text x="635.03" y="440.01" font-size="13.20" font-weight="bold" textLength="19.07" lengthAdjust="spacingAndGlyphs">1.8</text>
<text x="646.47" y="412.12" font-size="13.20" font-weight="bold" textLength="7.63" lengthAdjust="spacingAndGlyphs">2</text>
<text x="656.69" y="702.80" font-size="13.20" font-weight="bold" textLength="7.63" lengthAdjust="spacingAndGlyphs">0</text>
<text x="736.07" y="702.80" font-size="13.20" font-weight="bold" textLength="7.63" lengthAdjust="spacingAndGlyphs">5</text>
<text x="811.64" y="702.80" font-size="13.20" font-weight="bold" textLength="15.25" lengthAdjust="spacingAndGlyphs">10</text>
<text x="891.02" y="702.80" font-size="13.20" font-weight="bold" textLength="15.25" lengthAdjust="spacingAndGlyphs">15</text>
<text x="970.41" y="702.80" font-size="13.20" font-weight="bold" textLength="15.25" lengthAdjust="spacingAndGlyphs">20</text>
<text x="1049.79" y="702.80" font-size="13.20" font-weight="bold" textLength="15.25" lengthAdjust="spacingAndGlyphs">25</text>
<text x="1129.17" y="702.80" font-size="13.20" font-weight="bold" textLength="15.25" lengthAdjust="spacingAndGlyphs">30</text>
<text x="878.65" y="719.10" font-size="12.80" font-weight="bold" textLength="40.00" lengthAdjust="spacingAndGlyphs">Time</text>
<text transform="translate(626.60 547.00) rotate(-90) scale(0.7650 1)" x="0" y="0" font-size="18.90" font-weight="normal" text-anchor="middle" stroke="#1a1a1a" stroke-width="0.55">Latently HTLV-I-infected CD4<tspan dy="-7.18" font-size="13.23">+</tspan><tspan dy="7.18">T cells</tspan></text>
<rect x="1042.20" y="415.50" width="83.60" height="46.20" stroke="#8c8c8c" stroke-width="1" fill="#fff"/>
<path d="M1046.60 424.10H1088.10" stroke="#0000ff" stroke-width="2.00"/>
<text x="1092.10" y="428.39" font-size="12.80" font-weight="bold" textLength="28.50" lengthAdjust="spacingAndGlyphs">IS-1</text>
<path d="M1046.60 438.80H1088.10" stroke="#ff0000" stroke-width="2.00" stroke-dasharray="9.7 10.2"/>
<text x="1092.10" y="443.09" font-size="12.80" font-weight="bold" textLength="28.50" lengthAdjust="spacingAndGlyphs">IS-2</text>
<path d="M1046.60 453.40H1088.10" stroke="#000000" stroke-width="2.00" stroke-dasharray="2.5 2.4"/>
<text x="1092.10" y="457.69" font-size="12.80" font-weight="bold" textLength="28.50" lengthAdjust="spacingAndGlyphs">IS-3</text>
<text x="869.60" y="753.50" font-size="24.50" textLength="30.00" lengthAdjust="spacingAndGlyphs">(<tspan font-weight="bold">d</tspan>)</text>
<path d="M164.70 792.10V1071.20M259.90 792.10V1071.20M355.10 792.10V1071.20M450.30 792.10V1071.20M69.50 1024.68H545.50M69.50 978.17H545.50M69.50 931.65H545.50M69.50 885.13H545.50M69.50 838.62H545.50" stroke="#efefef" stroke-width="1" fill="none"/>
<rect x="69.50" y="792.10" width="476.00" height="279.10" stroke="#a0a0a0" stroke-width="1.10" fill="none"/>
<path d="M164.70 1071.20v-5.00M164.70 792.10v5.00M259.90 1071.20v-5.00M259.90 792.10v5.00M355.10 1071.20v-5.00M355.10 792.10v5.00M450.30 1071.20v-5.00M450.30 792.10v5.00M69.50 1024.68h5.00M545.50 1024.68h-5.00M69.50 978.17h5.00M545.50 978.17h-5.00M69.50 931.65h5.00M545.50 931.65h-5.00M69.50 885.13h5.00M545.50 885.13h-5.00M69.50 838.62h5.00M545.50 838.62h-5.00" stroke="#a8a8a8" stroke-width="1" fill="none"/>
<clipPath id="ce"><rect x="66.50" y="789.10" width="482.00" height="285.10"/></clipPath>
<g clip-path="url(#ce)"><g transform="translate(69.50 0) scale(1.2000 1)">
<path d="M0.00,978.2 1.69,978.4 2.98,978.9 4.07,979.7 4.76,980.8 6.65,984.7 8.23,988.4 16.27,1010.2 19.74,1019.1 21.72,1023.7 24.50,1029.2 27.67,1034.6 31.25,1040.0 34.62,1044.5 38.29,1048.7 39.87,1050.4 41.56,1051.9 43.55,1053.5 45.63,1055.0 50.59,1058.2 52.47,1059.3 54.85,1060.4 60.11,1062.6 64.87,1064.1 71.22,1065.7 76.28,1066.8 81.44,1067.7 87.78,1068.5 93.64,1069.1 103.46,1069.7 112.68,1070.2 135.69,1070.8 156.13,1071.0 191.84,1071.1 396.67,1071.2" stroke="#0000ff" stroke-width="2.00" fill="none" stroke-linejoin="round"/>
<path d="M0.00,885.1 1.79,891.0 3.57,897.5 5.26,904.4 7.14,912.8 11.21,933.0 15.67,958.1 17.95,968.6 20.93,980.4 26.19,999.7 27.87,1005.1 30.15,1011.3 35.31,1023.4 37.00,1027.1 38.39,1029.9 40.07,1032.9 42.16,1036.2 44.24,1039.2 46.32,1041.9 49.30,1045.4 52.37,1048.7 55.15,1051.4 57.73,1053.7 60.11,1055.4 62.89,1057.2 65.86,1058.8 69.93,1060.8 74.79,1062.9 78.96,1064.3 85.60,1066.1 92.05,1067.3 101.67,1068.5 111.00,1069.4 118.14,1069.9 131.33,1070.4 154.04,1070.9 190.25,1071.1 396.67,1071.2" stroke="#ff0000" stroke-width="2.00" fill="none" stroke-linejoin="round" stroke-dasharray="7.5 4.5"/>
<path d="M0.00,792.1 3.37,812.7 6.65,835.5 8.33,848.9 12.40,884.0 15.77,910.5 18.05,927.0 19.74,937.7 21.82,949.5 25.69,969.9 27.58,978.7 28.86,983.5 31.84,993.2 35.21,1005.2 36.80,1010.5 38.68,1016.0 40.37,1020.6 41.86,1024.2 43.64,1028.1 45.53,1031.8 47.51,1035.1 49.79,1038.5 52.27,1041.8 56.24,1046.7 59.12,1049.9 61.70,1052.3 64.38,1054.4 66.46,1055.8 69.04,1057.3 74.29,1060.2 77.07,1061.7 78.96,1062.5 81.63,1063.4 87.59,1065.2 90.66,1065.9 93.74,1066.5 104.85,1068.2 113.87,1069.1 123.20,1069.7 136.69,1070.3 150.28,1070.7 187.77,1071.1 396.67,1071.2" stroke="#000000" stroke-width="2.00" fill="none" stroke-linejoin="round" stroke-dasharray="2.2 1.8"/>
</g></g>
<text x="55.26" y="1075.82" font-size="13.20" font-weight="bold" textLength="7.44" lengthAdjust="spacingAndGlyphs">0</text>
<text x="55.26" y="1029.30" font-size="13.20" font-weight="bold" textLength="7.44" lengthAdjust="spacingAndGlyphs">1</text>
<text x="55.26" y="982.79" font-size="13.20" font-weight="bold" textLength="7.44" lengthAdjust="spacingAndGlyphs">2</text>
<text x="55.26" y="936.27" font-size="13.20" font-weight="bold" textLength="7.44" lengthAdjust="spacingAndGlyphs">3</text>
<text x="55.26" y="889.75" font-size="13.20" font-weight="bold" textLength="7.44" lengthAdjust="spacingAndGlyphs">4</text>
<text x="55.26" y="843.24" font-size="13.20" font-weight="bold" textLength="7.44" lengthAdjust="spacingAndGlyphs">5</text>
<text x="55.26" y="796.72" font-size="13.20" font-weight="bold" textLength="7.44" lengthAdjust="spacingAndGlyphs">6</text>
<text x="65.78" y="1087.50" font-size="13.20" font-weight="bold" textLength="7.44" lengthAdjust="spacingAndGlyphs">0</text>
<text x="157.26" y="1087.50" font-size="13.20" font-weight="bold" textLength="14.88" lengthAdjust="spacingAndGlyphs">20</text>
<text x="252.46" y="1087.50" font-size="13.20" font-weight="bold" textLength="14.88" lengthAdjust="spacingAndGlyphs">40</text>
<text x="347.66" y="1087.50" font-size="13.20" font-weight="bold" textLength="14.88" lengthAdjust="spacingAndGlyphs">60</text>
<text x="442.86" y="1087.50" font-size="13.20" font-weight="bold" textLength="14.88" lengthAdjust="spacingAndGlyphs">80</text>
<text x="534.34" y="1087.50" font-size="13.20" font-weight="bold" textLength="22.32" lengthAdjust="spacingAndGlyphs">100</text>
<text x="287.50" y="1103.80" font-size="12.80" font-weight="bold" textLength="40.00" lengthAdjust="spacingAndGlyphs">Time</text>
<text transform="translate(47.10 931.30) rotate(-90) scale(0.7493 1)" x="0" y="0" font-size="18.90" font-weight="normal" text-anchor="middle" stroke="#1a1a1a" stroke-width="0.55">Actively HTLV-I-infected CD4<tspan dy="-7.18" font-size="13.23">+</tspan><tspan dy="7.18">T cells</tspan></text>
<rect x="450.90" y="800.10" width="83.60" height="46.20" stroke="#8c8c8c" stroke-width="1" fill="#fff"/>
<path d="M455.30 808.70H496.80" stroke="#0000ff" stroke-width="2.00"/>
<text x="500.80" y="812.99" font-size="12.80" font-weight="bold" textLength="28.50" lengthAdjust="spacingAndGlyphs">IS-1</text>
<path d="M455.30 823.40H496.80" stroke="#ff0000" stroke-width="2.00" stroke-dasharray="9.7 10.2"/>
<text x="500.80" y="827.69" font-size="12.80" font-weight="bold" textLength="28.50" lengthAdjust="spacingAndGlyphs">IS-2</text>
<path d="M455.30 838.00H496.80" stroke="#000000" stroke-width="2.00" stroke-dasharray="2.5 2.4"/>
<text x="500.80" y="842.29" font-size="12.80" font-weight="bold" textLength="28.50" lengthAdjust="spacingAndGlyphs">IS-3</text>
<text x="279.90" y="1137.20" font-size="24.50" textLength="27.50" lengthAdjust="spacingAndGlyphs">(<tspan font-weight="bold">e</tspan>)</text>
<path d="M740.30 792.30V1071.40M819.60 792.30V1071.40M898.90 792.30V1071.40M978.20 792.30V1071.40M1057.50 792.30V1071.40M661.00 1040.39H1136.80M661.00 1009.38H1136.80M661.00 978.37H1136.80M661.00 947.36H1136.80M661.00 916.34H1136.80M661.00 885.33H1136.80M661.00 854.32H1136.80M661.00 823.31H1136.80" stroke="#efefef" stroke-width="1" fill="none"/>
<rect x="661.00" y="792.30" width="475.80" height="279.10" stroke="#c0c0c0" stroke-width="1.80" fill="none"/>
<path d="M740.30 1071.40v-5.00M740.30 792.30v5.00M819.60 1071.40v-5.00M819.60 792.30v5.00M898.90 1071.40v-5.00M898.90 792.30v5.00M978.20 1071.40v-5.00M978.20 792.30v5.00M1057.50 1071.40v-5.00M1057.50 792.30v5.00M661.00 1040.39h5.00M1136.80 1040.39h-5.00M661.00 1009.38h5.00M1136.80 1009.38h-5.00M661.00 978.37h5.00M1136.80 978.37h-5.00M661.00 947.36h5.00M1136.80 947.36h-5.00M661.00 916.34h5.00M1136.80 916.34h-5.00M661.00 885.33h5.00M1136.80 885.33h-5.00M661.00 854.32h5.00M1136.80 854.32h-5.00M661.00 823.31h5.00M1136.80 823.31h-5.00" stroke="#a8a8a8" stroke-width="1" fill="none"/>
<clipPath id="cf"><rect x="658.00" y="789.30" width="481.80" height="285.10"/></clipPath>
<g clip-path="url(#cf)"><g transform="translate(661.00 0) scale(1.3200 1)">
<path d="M0.00,1056.9 0.90,1062.8 1.44,1064.9 1.71,1065.2 2.34,1065.0 2.97,1064.6 3.61,1064.0 4.87,1062.2 6.94,1058.6 7.75,1057.0 8.56,1055.1 9.55,1052.3 10.55,1049.0 11.27,1046.0 11.90,1042.8 12.71,1037.7 13.43,1032.2 14.24,1023.6 15.77,1002.1 18.66,956.7 19.38,947.2 20.37,937.8 21.09,932.8 22.26,928.2 22.71,927.2 23.07,926.9 23.26,927.0 23.44,927.2 23.89,928.4 24.43,930.7 24.79,932.8 28.21,968.7 30.56,994.8 32.00,1008.0 33.71,1020.6 34.34,1024.2 35.24,1028.4 36.05,1031.6 36.87,1034.2 38.13,1037.2 39.03,1038.9 39.66,1039.6 40.65,1039.9 41.91,1040.2 42.90,1040.2 43.54,1039.9 44.17,1039.4 45.25,1038.2 47.41,1035.1 48.40,1033.5 49.39,1031.5 50.57,1028.6 51.38,1026.1 52.19,1022.4 54.08,1012.2 55.07,1007.8 56.52,1002.1 58.59,995.5 59.49,993.2 60.21,992.0 61.38,990.7 62.37,989.8 63.19,989.3 64.00,989.1 64.36,989.1 64.72,989.3 65.53,990.4 66.43,992.1 68.14,996.0 69.13,998.8 71.30,1006.2 72.20,1009.0 74.00,1012.9 75.71,1016.1 77.07,1018.1 78.24,1019.2 79.95,1020.4 81.30,1021.2 82.56,1021.7 83.65,1021.9 84.37,1021.9 85.09,1021.7 86.62,1021.0 88.24,1019.9 90.95,1017.5 92.30,1015.9 94.82,1012.0 95.90,1010.5 96.63,1009.7 99.06,1007.7 100.86,1006.3 102.39,1005.4 103.84,1004.8 105.19,1004.6 105.91,1004.6 106.72,1004.8 108.43,1005.6 113.03,1009.0 115.46,1010.5 119.07,1013.0 120.78,1014.1 122.68,1014.9 123.58,1015.1 124.39,1015.2 125.92,1015.1 127.54,1014.6 129.17,1013.9 132.95,1012.0 134.84,1011.3 141.42,1009.3 143.50,1008.9 145.30,1008.8 146.83,1008.9 148.45,1009.2 154.76,1010.9 160.80,1012.2 163.69,1012.7 166.12,1012.8 168.37,1012.8 170.81,1012.6 181.98,1010.8 184.69,1010.5 187.03,1010.4 191.00,1010.6 200.46,1011.6 204.79,1011.9 208.85,1011.8 218.40,1011.2 222.82,1011.1 302.23,1011.2 360.45,1011.4" stroke="#0000ff" stroke-width="2.00" fill="none" stroke-linejoin="round"/>
<path d="M0.00,1066.4 1.35,1068.5 2.25,1069.5 4.60,1070.4 6.94,1070.9 9.19,1071.1 11.81,1070.9 14.69,1070.3 18.03,1069.3 19.83,1068.4 21.54,1067.2 23.26,1065.6 24.88,1063.6 25.51,1062.4 26.23,1060.5 26.95,1058.2 27.49,1056.0 28.12,1052.7 28.75,1048.6 29.74,1038.7 30.83,1024.8 32.63,996.5 33.71,976.6 36.23,917.5 37.14,902.6 37.59,896.9 38.04,893.1 38.94,888.3 39.30,887.2 39.48,886.8 39.66,886.7 39.93,887.1 40.29,888.9 41.01,895.3 42.72,930.3 44.80,969.3 46.78,998.3 47.50,1006.8 48.31,1014.8 49.21,1022.2 50.12,1028.1 51.20,1034.3 52.01,1037.8 53.18,1040.8 54.35,1042.9 55.16,1043.7 57.33,1044.8 58.50,1045.2 59.58,1045.3 60.21,1045.0 60.93,1044.4 61.83,1043.1 62.82,1041.3 64.81,1037.1 65.35,1035.7 66.16,1033.0 67.15,1029.1 70.13,1015.2 70.94,1010.9 72.83,999.4 73.82,994.7 75.80,988.1 77.07,984.5 77.70,983.1 78.24,982.2 78.78,981.7 79.32,981.4 79.86,981.5 80.49,981.9 81.12,982.5 81.75,983.3 83.47,986.2 84.82,988.9 85.36,990.2 86.80,994.8 92.48,1016.1 93.20,1018.4 93.83,1019.9 94.28,1020.6 95.00,1021.3 96.27,1022.4 97.44,1023.2 99.33,1024.2 100.32,1024.5 101.22,1024.7 102.30,1024.7 103.21,1024.3 104.29,1023.6 105.55,1022.4 108.97,1018.3 110.06,1016.5 113.30,1010.8 116.82,1006.2 118.26,1004.6 119.43,1003.5 120.51,1002.8 121.50,1002.6 122.31,1002.7 123.13,1003.0 123.94,1003.4 124.93,1004.2 130.25,1009.1 134.21,1013.3 135.84,1014.6 136.65,1015.0 137.37,1015.2 140.07,1015.7 142.42,1015.9 143.86,1015.8 145.21,1015.3 146.56,1014.4 149.63,1012.1 151.16,1011.2 155.12,1009.6 157.38,1008.9 159.54,1008.3 161.43,1008.1 162.97,1008.2 164.59,1008.6 170.90,1010.9 175.77,1012.1 178.11,1012.6 180.09,1012.8 182.98,1012.8 186.22,1012.6 201.00,1010.8 204.61,1010.5 207.76,1010.4 212.54,1010.6 223.63,1011.5 228.68,1011.7 304.66,1011.6 360.45,1011.4" stroke="#ff0000" stroke-width="2.00" fill="none" stroke-linejoin="round" stroke-dasharray="7.5 4.5"/>
<path d="M0.00,1068.3 0.81,1069.7 1.53,1070.6 2.52,1071.1 3.52,1071.2 18.03,1071.2 31.01,1070.9 33.80,1070.7 36.78,1070.0 38.85,1069.4 39.93,1068.8 41.28,1067.6 42.63,1066.0 43.09,1065.2 43.54,1064.1 45.70,1058.2 46.24,1056.3 46.69,1053.5 47.05,1048.8 48.94,1014.0 52.91,915.3 53.36,899.7 54.44,854.0 55.07,834.5 55.34,829.1 55.79,823.2 56.15,819.9 56.43,818.8 56.52,818.8 56.61,819.0 56.79,819.8 57.24,824.0 57.69,829.9 58.05,837.6 58.86,863.0 60.03,911.4 60.57,929.2 62.64,987.0 63.37,1000.1 64.18,1012.2 64.99,1021.5 65.89,1028.7 67.33,1038.0 68.59,1044.1 69.49,1047.2 69.95,1048.2 70.58,1049.3 71.66,1051.0 72.65,1052.4 73.55,1053.4 74.45,1054.1 75.08,1054.5 75.62,1054.6 76.17,1054.6 76.62,1054.5 77.61,1053.9 78.69,1052.6 79.95,1050.4 81.30,1047.6 83.38,1042.5 84.10,1040.2 85.09,1035.9 86.17,1030.2 90.14,1005.6 91.04,999.4 93.20,982.9 94.28,976.2 95.00,973.1 96.00,970.5 96.99,968.5 97.44,967.9 97.80,967.8 98.25,967.8 98.70,968.2 99.24,969.0 99.78,970.1 100.95,973.2 102.67,978.8 103.57,983.5 105.55,996.5 106.81,1003.1 108.61,1011.4 109.25,1013.8 110.15,1016.6 112.04,1021.7 112.85,1023.4 113.66,1024.8 115.19,1026.8 116.46,1028.2 117.54,1029.0 118.44,1029.4 119.07,1029.4 119.79,1029.1 120.51,1028.5 121.32,1027.7 122.95,1025.4 125.83,1020.5 127.18,1017.5 130.16,1009.3 130.88,1007.7 131.51,1006.6 134.21,1002.6 135.93,1000.5 136.74,999.7 137.46,999.2 138.18,998.8 138.90,998.7 139.62,998.7 140.43,999.1 141.24,999.8 142.14,1000.7 145.75,1005.5 147.64,1007.8 151.16,1012.9 152.69,1014.6 153.59,1015.2 156.48,1016.8 158.10,1017.4 159.54,1017.6 160.71,1017.5 161.88,1017.0 163.06,1016.2 165.67,1014.0 166.84,1013.2 173.60,1009.6 175.40,1008.8 177.03,1008.3 178.56,1007.9 180.00,1007.8 181.62,1007.9 183.43,1008.4 185.14,1009.1 189.29,1011.2 191.36,1011.9 197.13,1013.2 199.11,1013.5 200.82,1013.6 202.63,1013.5 204.52,1013.3 206.77,1012.7 213.26,1011.0 215.34,1010.6 217.23,1010.4 221.83,1010.6 232.73,1011.6 237.69,1011.9 308.54,1011.8 360.45,1011.4" stroke="#000000" stroke-width="2.00" fill="none" stroke-linejoin="round" stroke-dasharray="2.2 1.8"/>
</g></g>
<text x="646.42" y="1076.02" font-size="13.20" font-weight="bold" textLength="8.18" lengthAdjust="spacingAndGlyphs">0</text>
<text x="638.23" y="1045.01" font-size="13.20" font-weight="bold" textLength="16.37" lengthAdjust="spacingAndGlyphs">10</text>
<text x="638.23" y="1014.00" font-size="13.20" font-weight="bold" textLength="16.37" lengthAdjust="spacingAndGlyphs">20</text>
<text x="638.23" y="982.99" font-size="13.20" font-weight="bold" textLength="16.37" lengthAdjust="spacingAndGlyphs">30</text>
<text x="638.23" y="951.98" font-size="13.20" font-weight="bold" textLength="16.37" lengthAdjust="spacingAndGlyphs">40</text>
<text x="638.23" y="920.96" font-size="13.20" font-weight="bold" textLength="16.37" lengthAdjust="spacingAndGlyphs">50</text>
<text x="638.23" y="889.95" font-size="13.20" font-weight="bold" textLength="16.37" lengthAdjust="spacingAndGlyphs">60</text>
<text x="638.23" y="858.94" font-size="13.20" font-weight="bold" textLength="16.37" lengthAdjust="spacingAndGlyphs">70</text>
<text x="638.23" y="827.93" font-size="13.20" font-weight="bold" textLength="16.37" lengthAdjust="spacingAndGlyphs">80</text>
<text x="638.23" y="796.92" font-size="13.20" font-weight="bold" textLength="16.37" lengthAdjust="spacingAndGlyphs">90</text>
<text x="656.91" y="1087.50" font-size="13.20" font-weight="bold" textLength="8.18" lengthAdjust="spacingAndGlyphs">0</text>
<text x="728.02" y="1087.50" font-size="13.20" font-weight="bold" textLength="24.55" lengthAdjust="spacingAndGlyphs">200</text>
<text x="807.32" y="1087.50" font-size="13.20" font-weight="bold" textLength="24.55" lengthAdjust="spacingAndGlyphs">400</text>
<text x="886.62" y="1087.50" font-size="13.20" font-weight="bold" textLength="24.55" lengthAdjust="spacingAndGlyphs">600</text>
<text x="965.92" y="1087.50" font-size="13.20" font-weight="bold" textLength="24.55" lengthAdjust="spacingAndGlyphs">800</text>
<text x="1041.13" y="1087.50" font-size="13.20" font-weight="bold" textLength="32.74" lengthAdjust="spacingAndGlyphs">1000</text>
<text x="1120.43" y="1087.50" font-size="13.20" font-weight="bold" textLength="32.74" lengthAdjust="spacingAndGlyphs">1200</text>
<text x="878.90" y="1103.80" font-size="12.80" font-weight="bold" textLength="40.00" lengthAdjust="spacingAndGlyphs">Time</text>
<text transform="translate(629.50 931.35) rotate(-90) scale(0.7778 1)" x="0" y="0" font-size="18.90" font-weight="normal" text-anchor="middle" stroke="#1a1a1a" stroke-width="0.55">HIV-1 particles</text>
<rect x="1042.20" y="800.30" width="83.60" height="46.20" stroke="#8c8c8c" stroke-width="1" fill="#fff"/>
<path d="M1046.60 808.90H1088.10" stroke="#0000ff" stroke-width="2.00"/>
<text x="1092.10" y="813.19" font-size="12.80" font-weight="bold" textLength="28.50" lengthAdjust="spacingAndGlyphs">IS-1</text>
<path d="M1046.60 823.60H1088.10" stroke="#ff0000" stroke-width="2.00" stroke-dasharray="9.7 10.2"/>
<text x="1092.10" y="827.89" font-size="12.80" font-weight="bold" textLength="28.50" lengthAdjust="spacingAndGlyphs">IS-2</text>
<path d="M1046.60 838.20H1088.10" stroke="#000000" stroke-width="2.00" stroke-dasharray="2.5 2.4"/>
<text x="1092.10" y="842.49" font-size="12.80" font-weight="bold" textLength="28.50" lengthAdjust="spacingAndGlyphs">IS-3</text>
<text x="872.80" y="1137.90" font-size="24.50" textLength="24.00" lengthAdjust="spacingAndGlyphs">(<tspan font-weight="bold">f</tspan>)</text>
<path d="M410.46 1176.50V1455.80M505.72 1176.50V1455.80M600.98 1176.50V1455.80M696.24 1176.50V1455.80M315.20 1409.25H791.50M315.20 1362.70H791.50M315.20 1316.15H791.50M315.20 1269.60H791.50M315.20 1223.05H791.50" stroke="#efefef" stroke-width="1" fill="none"/>
<rect x="315.50" y="1176.50" width="476.00" height="279.30" stroke="#959595" stroke-width="1.00" fill="none"/>
<path d="M410.46 1455.80v-5.00M410.46 1176.50v5.00M505.72 1455.80v-5.00M505.72 1176.50v5.00M600.98 1455.80v-5.00M600.98 1176.50v5.00M696.24 1455.80v-5.00M696.24 1176.50v5.00M315.20 1409.25h5.00M791.50 1409.25h-5.00M315.20 1362.70h5.00M791.50 1362.70h-5.00M315.20 1316.15h5.00M791.50 1316.15h-5.00M315.20 1269.60h5.00M791.50 1269.60h-5.00M315.20 1223.05h5.00M791.50 1223.05h-5.00" stroke="#a8a8a8" stroke-width="1" fill="none"/>
<clipPath id="cg"><rect x="312.20" y="1173.50" width="482.30" height="285.30"/></clipPath>
<g clip-path="url(#cg)"><g transform="translate(315.20 0) scale(1.2800 1)">
<path d="M0.00,1362.7 3.72,1371.8 7.63,1380.4 11.63,1388.3 15.82,1395.7 20.19,1402.6 24.66,1408.8 29.31,1414.4 31.73,1417.1 34.24,1419.7 36.75,1422.1 39.36,1424.5 42.06,1426.7 44.76,1428.8 47.55,1430.8 50.43,1432.7 53.41,1434.6 56.39,1436.3 59.55,1437.9 62.72,1439.4 69.42,1442.2 76.58,1444.6 84.21,1446.8 91.19,1448.3 98.73,1449.7 106.82,1451.0 115.48,1452.0 124.87,1452.9 135.20,1453.6 146.55,1454.2 159.21,1454.7 186.66,1455.3 223.41,1455.6 275.15,1455.8 372.11,1455.8" stroke="#0000ff" stroke-width="2.00" fill="none" stroke-linejoin="round"/>
<path d="M0.00,1269.6 3.82,1287.7 7.72,1304.5 11.82,1320.3 16.10,1335.0 18.33,1342.0 20.56,1348.7 22.80,1354.9 25.12,1361.0 27.54,1367.0 29.96,1372.6 32.47,1378.0 34.99,1383.1 37.59,1388.0 40.20,1392.6 42.90,1397.0 45.69,1401.3 48.57,1405.3 51.46,1409.1 54.43,1412.7 57.51,1416.1 60.67,1419.3 63.93,1422.4 67.28,1425.3 70.72,1428.0 74.25,1430.5 77.98,1432.9 81.79,1435.1 85.70,1437.2 89.14,1438.8 92.77,1440.4 96.49,1441.9 100.40,1443.3 104.40,1444.5 108.59,1445.7 112.96,1446.9 117.43,1447.9 126.92,1449.7 137.34,1451.2 148.79,1452.4 161.63,1453.4 174.66,1454.1 189.36,1454.7 206.29,1455.1 226.21,1455.4 277.76,1455.7 372.11,1455.8" stroke="#ff0000" stroke-width="2.00" fill="none" stroke-linejoin="round" stroke-dasharray="7.5 4.5"/>
<path d="M0.00,1176.5 3.82,1203.7 7.72,1228.8 11.82,1252.5 13.96,1263.9 16.10,1274.6 18.33,1285.1 20.56,1295.1 22.80,1304.4 25.12,1313.6 27.54,1322.6 29.96,1331.0 32.47,1339.1 34.99,1346.7 37.59,1354.1 40.20,1361.0 42.90,1367.6 45.69,1374.0 48.57,1380.1 51.46,1385.7 54.43,1391.1 57.51,1396.2 60.67,1401.1 63.93,1405.7 67.28,1410.0 70.72,1414.0 74.25,1417.8 77.98,1421.4 81.79,1424.8 85.70,1427.9 89.14,1430.4 92.77,1432.7 96.49,1434.9 100.40,1437.0 104.40,1438.9 108.59,1440.7 112.96,1442.4 117.43,1443.9 122.08,1445.3 126.92,1446.6 132.04,1447.8 137.34,1448.8 142.93,1449.8 148.79,1450.7 155.02,1451.5 161.63,1452.2 174.66,1453.2 189.36,1454.1 206.29,1454.7 226.21,1455.2 249.10,1455.5 277.76,1455.6 372.11,1455.8" stroke="#000000" stroke-width="2.00" fill="none" stroke-linejoin="round" stroke-dasharray="2.2 1.8"/>
</g></g>
<text x="300.86" y="1460.42" font-size="13.20" font-weight="bold" textLength="7.94" lengthAdjust="spacingAndGlyphs">0</text>
<text x="288.96" y="1413.87" font-size="13.20" font-weight="bold" textLength="19.84" lengthAdjust="spacingAndGlyphs">0.5</text>
<text x="300.86" y="1367.32" font-size="13.20" font-weight="bold" textLength="7.94" lengthAdjust="spacingAndGlyphs">1</text>
<text x="288.96" y="1320.77" font-size="13.20" font-weight="bold" textLength="19.84" lengthAdjust="spacingAndGlyphs">1.5</text>
<text x="300.86" y="1274.22" font-size="13.20" font-weight="bold" textLength="7.94" lengthAdjust="spacingAndGlyphs">2</text>
<text x="288.96" y="1227.67" font-size="13.20" font-weight="bold" textLength="19.84" lengthAdjust="spacingAndGlyphs">2.5</text>
<text x="300.86" y="1181.12" font-size="13.20" font-weight="bold" textLength="7.94" lengthAdjust="spacingAndGlyphs">3</text>
<text x="311.23" y="1472.10" font-size="13.20" font-weight="bold" textLength="7.94" lengthAdjust="spacingAndGlyphs">0</text>
<text x="402.52" y="1472.10" font-size="13.20" font-weight="bold" textLength="15.87" lengthAdjust="spacingAndGlyphs">20</text>
<text x="497.78" y="1472.10" font-size="13.20" font-weight="bold" textLength="15.87" lengthAdjust="spacingAndGlyphs">40</text>
<text x="593.04" y="1472.10" font-size="13.20" font-weight="bold" textLength="15.87" lengthAdjust="spacingAndGlyphs">60</text>
<text x="688.30" y="1472.10" font-size="13.20" font-weight="bold" textLength="15.87" lengthAdjust="spacingAndGlyphs">80</text>
<text x="779.60" y="1472.10" font-size="13.20" font-weight="bold" textLength="23.81" lengthAdjust="spacingAndGlyphs">100</text>
<text x="533.35" y="1488.80" font-size="12.80" font-weight="bold" textLength="40.00" lengthAdjust="spacingAndGlyphs">Time</text>
<text transform="translate(279.50 1315.90) rotate(-90) scale(0.7535 1)" x="0" y="0" font-size="18.90" font-weight="normal" text-anchor="middle" stroke="#1a1a1a" stroke-width="0.55">HIV-1-specific antibodies</text>
<rect x="696.90" y="1184.50" width="83.60" height="46.20" stroke="#8c8c8c" stroke-width="1" fill="#fff"/>
<path d="M701.30 1193.10H742.80" stroke="#0000ff" stroke-width="2.00"/>
<text x="746.80" y="1197.39" font-size="12.80" font-weight="bold" textLength="28.50" lengthAdjust="spacingAndGlyphs">IS-1</text>
<path d="M701.30 1207.80H742.80" stroke="#ff0000" stroke-width="2.00" stroke-dasharray="9.7 10.2"/>
<text x="746.80" y="1212.09" font-size="12.80" font-weight="bold" textLength="28.50" lengthAdjust="spacingAndGlyphs">IS-2</text>
<path d="M701.30 1222.40H742.80" stroke="#000000" stroke-width="2.00" stroke-dasharray="2.5 2.4"/>
<text x="746.80" y="1226.69" font-size="12.80" font-weight="bold" textLength="28.50" lengthAdjust="spacingAndGlyphs">IS-3</text>
<text x="525.20" y="1522.60" font-size="24.50" textLength="28.00" lengthAdjust="spacingAndGlyphs">(<tspan font-weight="bold">g</tspan>)</text>
</svg>
</body></html>
